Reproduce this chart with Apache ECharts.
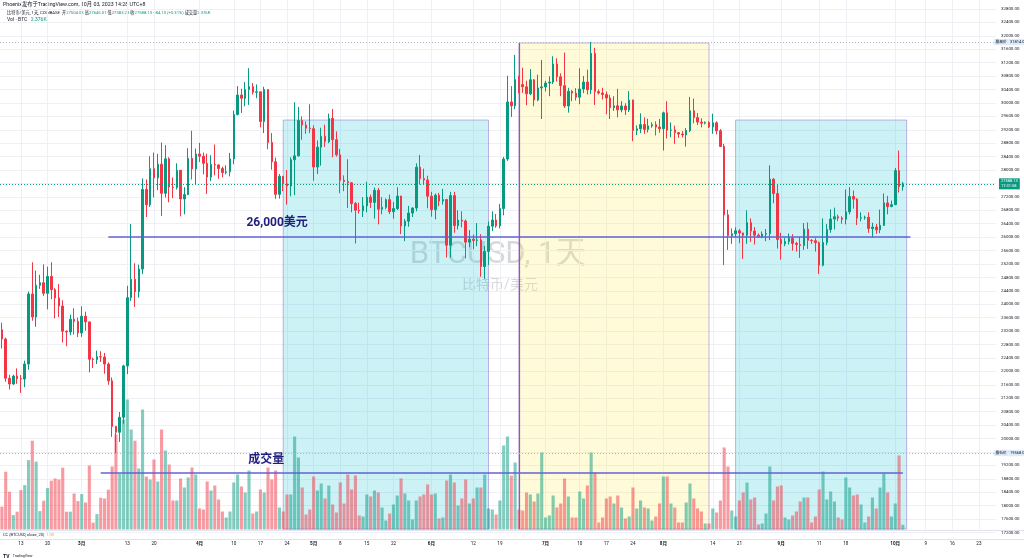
<!DOCTYPE html>
<html><head><meta charset="utf-8">
<script src="https://cdn.jsdelivr.net/npm/echarts/dist/echarts.min.js"></script>
<style>html,body{margin:0;padding:0;background:#fff}#c{width:1024px;height:558px}</style>
</head><body><div id="c"></div>
<script>
// ---------- DATA (BTC/USD daily, COINBASE) ----------
const startDate = '2023-02-08';
const totalDays = 262; // visible time axis incl. empty right margin

const opens = [23240,22963,21796,21625,21862,21783,21773,22220,24308,23623,24565,24641,24327,24829,24436,24188,23947,23198,23175,23555,23492,23147,23646,23475,22362,22353,22435,22429,22219,21718,20363,20187,20633,22163,24197,24746,24375,25052,27423,26965,28038,27767,28175,27307,28333,27493,27480,27994,27139,27268,28348,28033,28478,28411,28199,27790,28168,28150,28044,27925,27947,28333,29652,30235,30139,30399,30485,30318,30330,29445,30397,28822,28245,27276,27817,27591,27525,28307,28422,29473,29340,29248,29230,28091,28680,29006,28847,29534,28904,28454,27694,27658,27621,27000,26804,26784,26931,27192,27036,27398,26833,26889,27118,26760,26850,27225,26334,26476,26719,26868,28085,27745,27702,27219,26819,27249,27075,27119,25760,27238,26345,26508,26480,25851,25940,25902,25918,25125,25576,26327,26510,26336,26851,28327,30027,29912,30695,30548,30480,30271,30689,30086,30445,30477,30590,30620,31156,30777,30514,29909,30346,30292,30172,30414,30620,30392,31476,30335,30295,30249,30146,29857,29914,29793,29908,29792,30084,29177,29227,29354,29211,29315,29352,29281,29233,29705,29186,29193,29114,29072,29048,29179,29766,29562,29429,29397,29416,29283,29408,29170,28701,26664,26050,26100,26190,26125,26056,26432,26180,26060,26010,26090,26106,27727,27298,25931,25800,25869,25970,25813,25780,25753,26240,25905,25895,25833,25163,25842,26229,26539,26608,26568,26534,26754,27212,27133,26567,26580,26590,26256,26299,26218,26352,27021,26911,26967,27983,27504];
const highs = [23450,23010,21900,21900,22090,21890,22320,24380,25250,25000,24880,25190,25120,25250,24480,24600,24120,23220,23690,23880,23600,23940,23780,23480,22410,22620,22600,22550,22270,21820,20370,20790,22200,24550,26390,25220,25180,27750,27720,28410,28520,28480,28820,28740,28380,27780,28200,28000,27490,28650,29170,28640,28810,28520,28490,28440,28760,28170,28100,28140,28510,29770,30500,30420,30620,31035,30590,30550,30330,30480,30410,29100,28370,27880,27820,28000,28380,30020,29880,29600,29450,29960,29330,28880,29260,29350,29680,29820,29150,28630,27840,28320,27630,27050,27030,27190,27650,27270,27480,27470,27190,27150,27270,27050,27490,27230,26540,26930,26890,28200,28450,28040,27830,27350,27300,27320,27440,27140,27350,27350,26800,26770,26530,26210,26080,26420,26090,25740,26470,26770,26690,26990,28390,30810,30500,31430,30810,31050,30660,31010,30710,30840,31280,30660,30790,31390,31330,30880,31500,30450,30380,30440,31030,30800,30990,31814,31640,30400,30450,30340,30240,30200,30420,30050,29990,30350,30100,29330,29690,29570,29530,29420,29450,29520,29740,30050,29420,29320,29120,29160,29250,30180,30130,29700,29540,29450,29450,29680,29450,29220,28780,26820,26260,26290,26240,26130,26800,26560,26300,26110,26170,26240,28140,27760,27560,26130,25970,26110,26090,25860,26010,26420,26440,25940,25970,25870,26560,26390,26830,26880,26670,26620,27420,27490,27390,27160,26740,26640,26740,26430,26390,26820,27300,27230,27090,28060,28580,27645];
const lows = [22680,21690,21460,21600,21630,21360,21530,22050,23510,23330,24460,24250,23850,24150,23580,23620,22860,22750,23080,23100,23020,23030,23210,21970,22100,22220,22280,21930,21600,20050,19568,19900,20440,21920,24100,23920,24200,24900,26600,26900,27180,27400,26630,27180,27040,27160,27420,26620,26680,27250,27720,27550,28240,27870,27290,27670,27840,27740,27780,27870,27810,28170,29630,29700,29900,29940,30250,30140,29270,29100,28620,28010,27140,27150,27370,26970,27220,27250,28400,28900,29080,29100,27680,27880,28130,28690,28800,28380,28400,27310,27370,26870,26740,25810,26700,26600,26740,26870,26550,26380,26680,26830,26690,26550,26810,26090,25880,26310,26600,26770,27570,27560,26860,26610,26530,26920,26970,25390,25390,26130,26230,26290,25370,25700,25640,25730,24820,24760,25170,26180,26280,26260,26650,28270,29580,29810,30290,30300,29930,30230,29900,30050,29520,30340,30200,30560,30640,30200,29850,29710,30050,30070,29960,30290,30250,30260,29940,30250,30100,29660,29520,29760,29570,29720,29640,29730,28860,29040,29100,29080,29120,29260,29030,29110,28580,28940,28980,28780,28960,28970,28700,29130,29390,29340,29270,29360,29250,29080,29060,28700,25166,25620,25800,26000,25820,25350,25800,25860,25780,25980,25970,25880,25910,27010,25660,25330,25730,25780,25600,25570,25380,25620,25650,25800,25570,24900,25130,25760,26130,26230,26480,26400,26380,26680,26850,26360,26470,26520,26130,25990,26100,26120,26330,26680,26890,26960,27330,27383];
const closes = [22963,21796,21625,21862,21783,21773,22220,24308,23623,24565,24641,24327,24829,24436,24188,23947,23198,23175,23555,23492,23147,23646,23475,22362,22353,22435,22429,22219,21718,20363,20187,20633,22163,24197,24746,24375,25052,27423,26965,28038,27767,28175,27307,28333,27493,27480,27994,27139,27268,28348,28033,28478,28411,28199,27790,28168,28150,28044,27925,27947,28333,29652,30235,30139,30399,30485,30318,30330,29445,30397,28822,28245,27276,27817,27591,27525,28307,28422,29473,29340,29248,29230,28091,28680,29006,28847,29534,28904,28454,27694,27658,27621,27000,26804,26784,26931,27192,27036,27398,26833,26889,27118,26760,26850,27225,26334,26476,26719,26868,28085,27745,27702,27219,26819,27249,27075,27119,25760,27238,26345,26508,26480,25851,25940,25902,25918,25125,25576,26327,26510,26336,26851,28327,30027,29912,30695,30548,30480,30271,30689,30086,30445,30477,30590,30620,31156,30777,30514,29909,30346,30292,30172,30414,30620,30392,31476,30335,30295,30249,30146,29857,29914,29793,29908,29792,30084,29177,29227,29354,29211,29315,29352,29281,29233,29705,29186,29193,29114,29072,29048,29179,29766,29562,29429,29397,29416,29283,29408,29170,28701,26664,26050,26100,26190,26125,26056,26432,26180,26060,26010,26090,26106,27727,27298,25931,25800,25869,25970,25813,25780,25753,26240,25905,25895,25833,25163,25842,26229,26539,26608,26568,26534,26754,27212,27133,26567,26580,26590,26256,26299,26218,26352,27021,26911,26967,27983,27504,27588.13];
// volume, thousands of BTC
const volumes = [11.4,28.9,18.9,7.2,8.9,19.7,22.2,34.7,44.4,33.9,9.2,14.4,20.7,24.4,25.5,25,30.9,8.9,8.9,18,14.2,17.7,13.5,32,3.4,7.7,15.9,15.5,19.9,31.5,47.5,28,55,65,50,44.4,30.5,60,26.5,25,35,24,50,39.5,32.5,14.5,14.5,25.5,21,26,31,27.5,10.5,10,24,19.5,22,15,9,6,9,23.5,27.5,21.5,18.5,29.5,8,9,20,18.5,31,25,29.5,11,9,17.5,17.5,46.5,36,21,7.5,10,26.5,19.5,23,15.5,22,12.5,8.5,23.5,13,27.5,20,27,7,6.5,17.5,16.5,19.5,18.5,11,4.5,8,12.5,17,25.5,18,14.5,5,14.5,16.5,17.5,22.5,17.5,18,5.5,6,24.5,27.5,23.5,12,15.5,25,13,15.5,21,21,27.5,10.5,10,7.5,14.5,42,46.5,27,33.5,10,9.5,18.5,17.5,14,18,38.5,6,7,17,11,13,25.5,16.5,6,6,19,15.5,22,38.5,28.5,3.5,6,15.5,16.5,13,17,11,5.5,6.5,21,10.5,14.5,11,10.5,4.5,6.5,13,26.5,26.5,13,11,3.5,3.5,13.5,23,15.5,10.5,9,3,3,10.5,8.5,14.5,41,31.5,9.5,6.5,14.5,18.5,23.5,15,16,2.5,3,8,31.5,14.5,21.5,22,6,5,7,9,14,16,16,3.5,6.5,20,29,15,19,14,6,5,26,21,17,17.5,12.5,3.5,6.5,16,10.5,21,28,18.5,6.5,13,37,2.376];

// time-axis labels
const xTicks = [['2023-02-13','13'],['2023-02-20','20'],['2023-03-01','3月'],['2023-03-13','13'],['2023-03-20','20'],['2023-04-01','4月'],['2023-04-10','10'],['2023-04-17','17'],['2023-04-24','24'],['2023-05-01','5月'],['2023-05-08','8'],['2023-05-15','15'],['2023-05-22','22'],['2023-06-01','6月'],['2023-06-12','12'],['2023-06-19','19'],['2023-07-01','7月'],['2023-07-10','10'],['2023-07-17','17'],['2023-07-24','24'],['2023-08-01','8月'],['2023-08-14','14'],['2023-08-21','21'],['2023-09-01','9月'],['2023-09-11','11'],['2023-09-18','18'],['2023-10-01','10月'],['2023-10-09','9'],['2023-10-16','16'],['2023-10-23','23']];
// price scale
const priceMin = 17200, priceMax = 33200, priceStep = 400;
const volMax = 100;

// drawings (data-space anchors)
const supportLevel = 26000;
const supportFrom = '2023-03-08', supportTo = '2023-10-05';
const volLevel = 28.25;
const volLineFrom = '2023-03-06', volLineTo = '2023-10-03';
const rectBottom = 17303;
const rects = [
  {from:'2023-04-23', to:'2023-06-16', top:29490, fill:'rgba(0,188,212,0.2)'},
  {from:'2023-06-24', to:'2023-08-13', top:31784, fill:'rgba(255,235,59,0.2)'},
  {from:'2023-08-20', to:'2023-10-04', top:29490, fill:'rgba(0,188,212,0.2)'}
];
const supportLabel = {text:'26,000美元', at:'2023-04-21', price:26421};
const volLabel = {text:'成交量', at:'2023-04-18', value:34.75};

// ---------- BUILD ----------
const dates = [];
(function(){const p=startDate.split('-').map(Number);for(let i=0;i<totalDays;i++){dates.push(new Date(Date.UTC(p[0],p[1]-1,p[2]+i)).toISOString().slice(0,10));}})();
const tickMap = {}; xTicks.forEach(t => tickMap[t[0]] = t[1]);
const UP = '#089981', DN = '#f23645';
const candleData = opens.map((o,i)=>[o, closes[i], lows[i], highs[i]]);
const volData = volumes.map((v,i)=>({value:v, itemStyle:{color: closes[i]>=opens[i] ? 'rgba(8,153,129,0.5)' : 'rgba(242,54,69,0.5)'}}));
const hi = Math.max(...highs), lo = Math.min(...lows);
const last = closes[closes.length-1];
const FONT = 'Roboto, "Noto Sans CJK SC", sans-serif';
const GRIDC = '#eef0f5';
const paneW = 996;

const chart = echarts.init(document.getElementById('c'), null, {renderer:'canvas'});
const option = {
  animation: false,
  backgroundColor: '#ffffff',
  textStyle: {fontFamily: FONT},
  grid: [
    {left:0, top:-4.5, width:paneW, height:537, outerBoundsMode:'none', containLabel:false},
    {left:0, top:329.5, width:paneW, height:200, outerBoundsMode:'none', containLabel:false}
  ],
  xAxis: [
    {type:'category', gridIndex:0, data:dates, boundaryGap:true,
     axisLine:{show:false}, axisTick:{show:false}, splitLine:{show:false},
     axisLabel:{show:true, interval:(i,v)=>tickMap[v]!==undefined, margin:9, fontSize:4.6, color:'#131722', fontFamily:FONT,
       formatter:(v)=>{const t=tickMap[v]; if(t===undefined) return ''; return t.indexOf('月')>=0 ? '{b|'+t+'}' : t;},
       rich:{b:{fontWeight:'bold', fontSize:4.6, color:'#131722'}}}},
    {type:'category', gridIndex:1, data:dates, boundaryGap:true, show:false}
  ],
  yAxis: [
    {type:'value', gridIndex:0, position:'right', min:priceMin, max:priceMax, interval:priceStep, scale:false,
     axisLine:{show:false}, axisTick:{show:false},
     splitLine:{show:true, lineStyle:{color:GRIDC, width:1}},
     axisLabel:{show:true, margin:5, fontSize:4.4, color:'#131722', formatter:(v)=>v.toFixed(2)}},
    {type:'value', gridIndex:1, min:0, max:volMax, show:false, splitLine:{show:false}}
  ],
  series: [
    { // background drawings + vertical grid
      type:'line', xAxisIndex:0, yAxisIndex:0, data:[], silent:true,
      markLine:{silent:true, z:0, symbol:'none', animation:false, label:{show:false},
        lineStyle:{color:GRIDC, width:1, type:'solid'},
        data: xTicks.map(t=>({xAxis:t[0]}))},
      markArea:{silent:true, z:1, animation:false,
        data: rects.map(r=>[{xAxis:r.from, yAxis:r.top, itemStyle:{color:r.fill, borderColor:'rgba(149,117,205,0.55)', borderWidth:1}}, {xAxis:r.to, yAxis:rectBottom}])}
    },
    {
      type:'bar', name:'Volume', xAxisIndex:1, yAxisIndex:1, data:volData, barWidth:'82%', silent:true, z:2,
      markLine:{silent:true, symbol:'none', animation:false, z:5,
        data:[
          [{coord:[volLineFrom, volLevel], lineStyle:{color:'#6262d6', width:1.5, type:'solid'}, label:{show:false}}, {coord:[volLineTo, volLevel]}],
          {yAxis:volumes[volumes.length-1], lineStyle:{opacity:0},
           label:{show:true, position:'end', distance:-13, formatter:'{a|Volume}{b|'+(volumes[volumes.length-1]).toFixed(3)+'}',
             rich:{a:{backgroundColor:UP, color:'#fff', fontSize:4, padding:[1.5,2]}, b:{backgroundColor:UP, color:'#fff', fontSize:4, padding:[1.5,2]}}}}
        ]},
      markPoint:{silent:true, symbol:'circle', symbolSize:1, itemStyle:{color:'transparent'}, animation:false,
        data:[{coord:[volLabel.at, volLabel.value], label:{show:true, position:'inside', offset:[2,0], formatter:volLabel.text, fontSize:12, fontWeight:'bold', color:'#211e7c', fontFamily:FONT}}]}
    },
    {
      type:'candlestick', name:'BTCUSD', xAxisIndex:0, yAxisIndex:0, data:candleData, barWidth:2, silent:true, z:3,
      itemStyle:{color:UP, color0:DN, borderColor:UP, borderColor0:DN, borderWidth:1},
      markLine:{silent:true, symbol:'none', animation:false, z:5,
        data:[
          [{coord:[supportFrom, supportLevel], lineStyle:{color:'#6262d6', width:1.5, type:'solid'}, label:{show:false}}, {coord:[supportTo, supportLevel]}],
          [{coord:[rects[1].from, rects[1].top], lineStyle:{color:'#9a4fc6', width:1.2, type:'solid'}, label:{show:false}}, {coord:[rects[1].from, rectBottom]}],
          {yAxis:hi, lineStyle:{color:'#b2b5be', width:1, type:[1,2]},
           label:{show:true, position:'end', distance:-2, formatter:'{a|最高价}{b|'+hi.toFixed(2)+'}',
             rich:{a:{backgroundColor:'#dfeafb', color:'#131722', fontSize:3.8, padding:[1.2,1.5]}, b:{backgroundColor:'#dfeafb', color:'#131722', fontSize:4, padding:[1.2,1.5]}}}},
          {yAxis:lo, lineStyle:{color:'#b2b5be', width:1, type:[1,2]},
           label:{show:true, position:'end', distance:-2, formatter:'{a|最低价}{b|'+lo.toFixed(2)+'}',
             rich:{a:{backgroundColor:'#dfeafb', color:'#131722', fontSize:3.8, padding:[1.2,1.5]}, b:{backgroundColor:'#dfeafb', color:'#131722', fontSize:4, padding:[1.2,1.5]}}}},
          {yAxis:last, lineStyle:{color:UP, width:1, type:[1,2]},
           label:{show:true, position:'end', distance:3, formatter:last.toFixed(2)+'\n17:31:58', backgroundColor:UP, color:'#fff', fontSize:4, lineHeight:5, padding:[0.5,2]}}
        ]},
      markPoint:{silent:true, symbol:'circle', symbolSize:1, itemStyle:{color:'transparent'}, animation:false,
        data:[{coord:[supportLabel.at, supportLabel.price], label:{show:true, position:'inside', offset:[1.5,0], formatter:supportLabel.text, fontSize:12, fontWeight:'bold', color:'#211e7c', fontFamily:FONT}}]}
    }
  ],
  graphic: [
    // watermark
    {type:'text', silent:true, z:-1, x:498, y:255, style:{text:'BTCUSD, 1天', font:'31px '+FONT, fill:'rgba(100,106,118,0.26)', textAlign:'center', textVerticalAlign:'middle'}},
    {type:'text', silent:true, z:-1, x:500, y:285, style:{text:'比特币/美元', font:'14px '+FONT, fill:'rgba(100,106,118,0.26)', textAlign:'center', textVerticalAlign:'middle'}},
    // header
    {type:'text', silent:true, x:3, y:2, style:{text:'Phoenix发布于TradingView.com, 10月 03, 2023 14:28 UTC+8', font:'5.3px '+FONT, fill:'#131722'}},
    {type:'text', silent:true, x:7, y:10.5, style:{rich:{n:{fill:'#131722', font:'4.2px '+FONT}, g:{fill:UP, font:'4.2px '+FONT}},
      text:'{n|比特币/美元, 1天, COINBASE  开}{g|27504.03}{n| 高}{g|27645.01}{n| 低}{g|27383.23}{n| 收}{g|27588.13 +84.10 (+0.31%)}{n| 成交量}{g|2.376K}'}},
    {type:'text', silent:true, x:7, y:17, style:{rich:{n:{fill:'#131722', font:'5px '+FONT}, g:{fill:UP, font:'5px '+FONT}}, text:'{n|Vol · BTC   }{g|2.376K}'}},
    // bottom panes
    {type:'line', silent:true, shape:{x1:0, y1:530.5, x2:1024, y2:530.5}, style:{stroke:'#e0e3eb', lineWidth:1}},
    {type:'text', silent:true, x:3, y:532.5, style:{rich:{n:{fill:'#131722', font:'4px '+FONT}, y:{fill:'#e6b800', font:'4px '+FONT}}, text:'{n|CC (BTCUSD, close, 20)  }{y|1.00}'}},
    {type:'line', silent:true, shape:{x1:0, y1:539.5, x2:1024, y2:539.5}, style:{stroke:'#e0e3eb', lineWidth:1}},
    {type:'text', silent:true, x:3, y:550.5, style:{rich:{t:{fill:'#131722', font:'bold 5px '+FONT}, n:{fill:'#131722', font:'3.6px '+FONT}}, text:'{t|TV} {n|TradingView}'}}
  ]
};
chart.setOption(option);
</script></body></html>
